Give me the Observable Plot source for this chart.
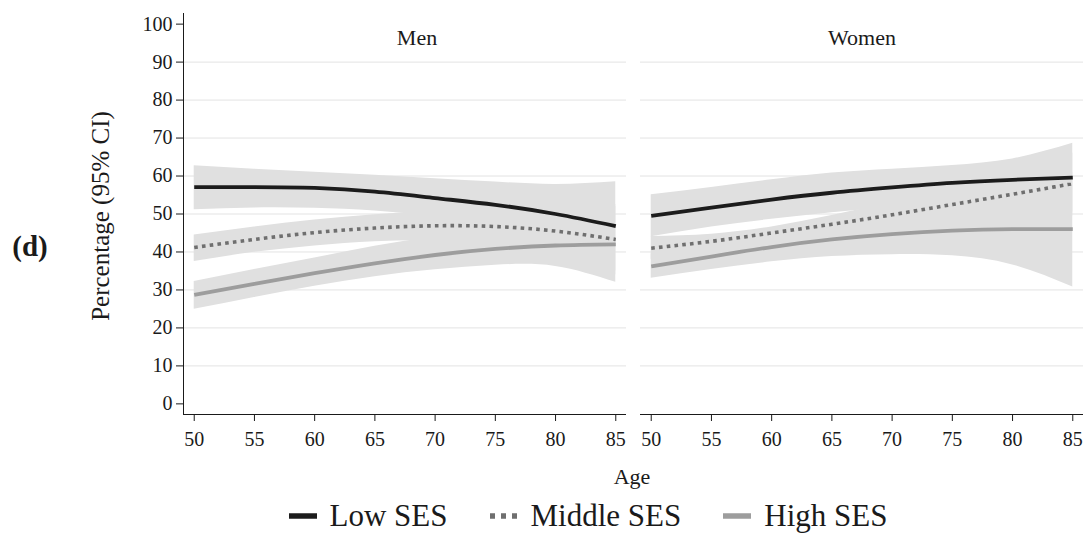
<!DOCTYPE html>
<html>
<head>
<meta charset="utf-8">
<script src="https://cdn.jsdelivr.net/npm/d3@7"></script>
<script src="https://cdn.jsdelivr.net/npm/@observablehq/plot@0.6"></script>
<style>
  body { margin: 0; background: #fff; font-family: "Liberation Serif", "Times New Roman", serif; color: #1a1a1a; }
  #wrap { position: relative; width: 1084px; height: 536px; overflow: hidden; }
  svg, svg text { font-family: "Liberation Serif", "Times New Roman", serif !important; }
  .lab { position: absolute; white-space: nowrap; transform: translate(-50%, -50%); line-height: 1; font-family: "Liberation Serif", serif; }
  #panel { left: 30px; top: 246px; font-size: 29px; font-weight: bold; }
  #ytitle { left: 100px; top: 216px; font-size: 25px; transform: translate(-50%, -50%) rotate(-90deg); }
  #xtitle { left: 632px; top: 477px; font-size: 22px; }
  #legend { position: absolute; left: 0; top: 496px; width: 1084px; height: 40px; display: flex; justify-content: center; align-items: center; font-size: 31px; padding-left: 92px; box-sizing: border-box; font-family: "Liberation Serif", serif; }
  .item { display: flex; align-items: center; margin: 0 21px; }
  .item svg { margin-right: 13px; }
</style>
</head>
<body>
<div id="wrap">
  <div id="chart"></div>
  <div id="legend"></div>
  <div class="lab" id="panel">(d)</div>
  <div class="lab" id="ytitle">Percentage (95% CI)</div>
  <div class="lab" id="xtitle">Age</div>
</div>
<script>
// ---- data ----
const ages = [50, 55, 60, 65, 70, 75, 80, 85];
const sexes = ["Men", "Women"];
const groups = ["Low SES", "Middle SES", "High SES"];
const xTicks = [50, 55, 60, 65, 70, 75, 80, 85];
const yTicks = [0, 10, 20, 30, 40, 50, 60, 70, 80, 90, 100];
const gridTicks = [10, 20, 30, 40, 50, 60, 70, 80, 90];

// Men
const menLow     = [57.1, 57.1, 56.9, 55.9, 54.2, 52.4, 50.0, 46.8];
const menLowLo   = [51.1, 51.6, 51.5, 50.8, 49.2, 46.5, 42.0, 35.0];
const menLowHi   = [62.7, 61.8, 61.0, 60.2, 59.3, 58.4, 57.8, 58.5];
const menMid     = [41.2, 43.3, 45.1, 46.3, 46.9, 46.7, 45.5, 43.3];
const menMidLo   = [37.5, 39.9, 41.6, 42.7, 42.9, 41.9, 39.0, 34.0];
const menMidHi   = [44.5, 46.6, 48.4, 49.8, 50.8, 51.5, 52.0, 52.5];
const menHigh    = [28.7, 31.6, 34.4, 37.0, 39.2, 40.8, 41.7, 42.0];
const menHighLo  = [24.9, 28.0, 31.0, 33.5, 35.3, 36.5, 36.2, 32.0];
const menHighHi  = [32.2, 35.4, 38.4, 41.5, 44.0, 46.0, 48.0, 52.0];
// Women
const womenLow     = [49.5, 51.7, 53.8, 55.6, 57.0, 58.2, 59.0, 59.6];
const womenLowLo   = [44.0, 46.6, 48.6, 50.3, 51.8, 52.8, 52.5, 50.5];
const womenLowHi   = [55.1, 57.0, 59.0, 60.8, 61.8, 62.8, 64.5, 68.6];
const womenMid     = [41.0, 42.8, 45.0, 47.3, 49.8, 52.5, 55.2, 58.0];
const womenMidLo   = [38.0, 40.5, 43.0, 45.0, 46.8, 48.5, 49.5, 49.5];
const womenMidHi   = [44.1, 44.7, 46.6, 49.6, 53.0, 56.5, 60.5, 66.0];
const womenHigh    = [36.2, 38.8, 41.3, 43.3, 44.7, 45.6, 46.0, 46.0];
const womenHighLo  = [33.1, 35.4, 37.4, 38.8, 39.3, 39.0, 36.6, 30.8];
const womenHighHi  = [39.5, 42.2, 45.0, 47.5, 49.8, 52.0, 55.0, 61.0];

const series = {
  Men: {
    "Low SES": [menLow, menLowLo, menLowHi],
    "Middle SES": [menMid, menMidLo, menMidHi],
    "High SES": [menHigh, menHighLo, menHighHi]
  },
  Women: {
    "Low SES": [womenLow, womenLowLo, womenLowHi],
    "Middle SES": [womenMid, womenMidLo, womenMidHi],
    "High SES": [womenHigh, womenHighLo, womenHighHi]
  }
};
const rows = [];
for (const sex of sexes) for (const group of groups) {
  const [est, lo, hi] = series[sex][group];
  ages.forEach((age, i) => rows.push({sex, group, age, est: est[i], lo: lo[i], hi: hi[i]}));
}

const styles = {
  "Low SES":    {stroke: "#1c1c1c", strokeWidth: 3.8, dash: null},
  "Middle SES": {stroke: "#6f6f6f", strokeWidth: 3.6, dash: "3.6,4.2"},
  "High SES":   {stroke: "#9d9d9d", strokeWidth: 3.8, dash: null}
};
const band = "#e0e0e0";
const xDomain = [49.11, 85.89];
const yDomain = [-2.8, 102.8];
const font = "'Liberation Serif', 'Times New Roman', serif";

const chart = Plot.plot({
  width: 1084,
  height: 496,
  marginTop: 13,
  marginBottom: 82,
  marginLeft: 182,
  marginRight: 1,
  style: {fontFamily: font, fontSize: "20px", color: "#1a1a1a", background: "#fff"},
  fx: {domain: sexes, paddingInner: 0.031, paddingOuter: 0, axis: null},
  x: {domain: xDomain},
  y: {domain: yDomain},
  marks: [
    Plot.ruleY(gridTicks, {stroke: "#e3e3e3", strokeWidth: 1}),
    Plot.areaY(rows, {x: "age", y1: "lo", y2: "hi", z: d => d.group, fx: "sex", fill: band, curve: "natural"}),
    ...groups.map(g => Plot.lineY(rows.filter(d => d.group === g), {
      x: "age", y: "est", fx: "sex", stroke: styles[g].stroke, strokeWidth: styles[g].strokeWidth,
      strokeDasharray: styles[g].dash, strokeLinecap: "butt", curve: "natural"
    })),
    Plot.ruleY([yDomain[0]], {stroke: "#1a1a1a", strokeWidth: 1}),
    Plot.ruleX(["Men"], {fx: d => d, x: () => xDomain[0], stroke: "#1a1a1a", strokeWidth: 1}),
    Plot.axisY({ticks: yTicks, tickSize: 7, tickPadding: 4, fontSize: 20, label: null, tickFormat: d => String(d)}),
    Plot.axisX({ticks: xTicks, tickSize: 7, tickPadding: 10, fontSize: 20, label: null, tickFormat: d => String(d)}),
    Plot.text(["Men"], {fx: d => d, text: d => d, frameAnchor: "top", dy: 16, dx: 12, fontSize: 22, fill: "#1a1a1a"}),
    Plot.text(["Women"], {fx: d => d, text: d => d, frameAnchor: "top", dy: 16, fontSize: 22, fill: "#1a1a1a"})
  ]
});
document.getElementById("chart").appendChild(chart);

// legend
const legend = document.getElementById("legend");
for (const g of groups) {
  const s = styles[g];
  const item = document.createElement("div");
  item.className = "item";
  item.innerHTML = `<svg width="28" height="10"><line x1="0" x2="28" y1="5" y2="5" stroke="${s.stroke}" stroke-width="5.5" ${s.dash ? 'stroke-dasharray="5,6"' : ''}/></svg><span>${g}</span>`;
  legend.appendChild(item);
}
</script>
</body>
</html>
